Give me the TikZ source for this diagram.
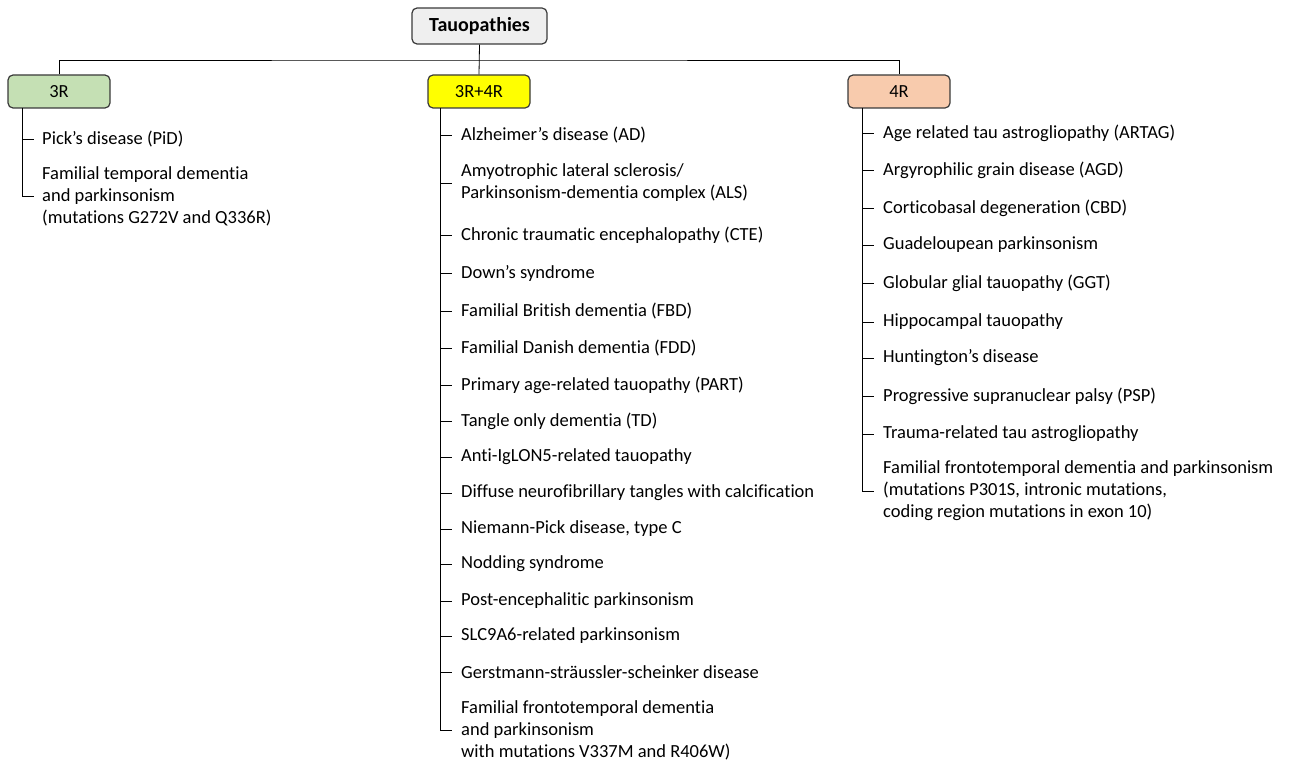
\documentclass[tikz,border=0pt]{standalone}
\usepackage{fontspec}
\setmainfont{Carlito}[Ligatures=CommonOff]
\usetikzlibrary{calc}
\definecolor{boxline}{HTML}{3A3A3A}
\definecolor{topfill}{HTML}{EFEFEF}
\definecolor{greenfill}{HTML}{C5E0B4}
\definecolor{yellowfill}{HTML}{FFFF00}
\definecolor{peachfill}{HTML}{F8CBAD}
\tikzset{
  catbox/.style={draw=boxline, line width=1.2pt, rounded corners=5pt, minimum width=102pt, minimum height=33pt, inner sep=0pt, font=\fontsize{18.5}{22}\selectfont},
  topbox/.style={catbox, fill=topfill, minimum width=135pt, minimum height=36pt, font=\fontsize{20}{24}\selectfont\bfseries},
  item/.style={anchor=west, inner sep=0pt, align=left, font=\fontsize{18.5}{22}\selectfont},
  conn/.style={draw=black, line width=0.8pt},
}
\begin{document}
\begin{tikzpicture}[x=1pt,y=-1pt]
\useasboundingbox (0,0) rectangle (1289,765);
% top
\node[topbox] (top) at (479.5,26) {Tauopathies};
\node[catbox, fill=greenfill] (b3) at (59,91.5) {3R};
\node[catbox, fill=yellowfill] (b34) at (479,91.5) {3R+4R};
\node[catbox, fill=peachfill] (b4) at (899,91.5) {4R};
\coordinate (hub) at (479.5,60);
\draw[conn] (top.south) -- (b34.north);
\draw[conn] (b3.north) |- (hub) -| (b4.north);

% 3R items
\node[item] (p1) at (42,139) {Pick’s disease (PiD)};
\node[item] (p2) at (42,196) {Familial temporal dementia\\and parkinsonism\\(mutations G272V and Q336R)};
\coordinate (t3) at (22,108);

% 3R+4R items
\node[item] (m1) at (461,135) {Alzheimer’s disease (AD)};
\node[item] (m2) at (461,183) {Amyotrophic lateral sclerosis/\\Parkinsonism-dementia complex (ALS)};
\node[item] (m3) at (461,235) {Chronic traumatic encephalopathy (CTE)};
\node[item] (m4) at (461,273) {Down’s syndrome};
\node[item] (m5) at (461,311) {Familial British dementia (FBD)};
\node[item] (m6) at (461,348) {Familial Danish dementia (FDD)};
\node[item] (m7) at (461,385) {Primary age-related tauopathy (PART)};
\node[item] (m8) at (461,421) {Tangle only dementia (TD)};
\node[item] (m9) at (461,457) {Anti-IgLON5-related tauopathy};
\node[item] (m10) at (461,493) {Diffuse neurofibrillary tangles with calcification};
\node[item] (m11) at (461,529) {Niemann-Pick disease, type C};
\node[item] (m12) at (461,564) {Nodding syndrome};
\node[item] (m13) at (461,601) {Post-encephalitic parkinsonism};
\node[item] (m14) at (461,636) {SLC9A6-related parkinsonism};
\node[item] (m15) at (461,672) {Gerstmann-sträussler-scheinker disease};
\node[item] (m16) at (461,730) {Familial frontotemporal dementia\\and parkinsonism\\with mutations V337M and R406W)};
\coordinate (t34) at (440,108);

% 4R items
\node[item] (q1) at (883,133) {Age related tau astrogliopathy (ARTAG)};
\node[item] (q2) at (883,170) {Argyrophilic grain disease (AGD)};
\node[item] (q3) at (883,208) {Corticobasal degeneration (CBD)};
\node[item] (q4) at (883,245) {Guadeloupean parkinsonism};
\node[item] (q5) at (883,283) {Globular glial tauopathy (GGT)};
\node[item] (q6) at (883,322) {Hippocampal tauopathy};
\node[item] (q7) at (883,358) {Huntington’s disease};
\node[item] (q8) at (883,396) {Progressive supranuclear palsy (PSP)};
\node[item] (q9) at (883,434) {Trauma-related tau astrogliopathy};
\node[item] (q10) at (883,491) {Familial frontotemporal dementia and parkinsonism\\(mutations P301S, intronic mutations,\\coding region mutations in exon 10)};
\coordinate (t4) at (862,108);

% trunks
\draw[conn] (t3) -- (t3 |- p2.west) -- ++(12,0);
\foreach \n in {p1} \draw[conn] (t3 |- \n.west) -- ++(12,0);
\draw[conn] (t34) -- (t34 |- m16.west) -- ++(12,0);
\foreach \n in {m1,m2,m3,m4,m5,m6,m7,m8,m9,m10,m11,m12,m13,m14,m15} \draw[conn] (t34 |- \n.west) -- ++(12,0);
\draw[conn] (t4) -- (t4 |- q10.west) -- ++(12,0);
\foreach \n in {q1,q2,q3,q4,q5,q6,q7,q8,q9} \draw[conn] (t4 |- \n.west) -- ++(12,0);
\end{tikzpicture}
\end{document}
